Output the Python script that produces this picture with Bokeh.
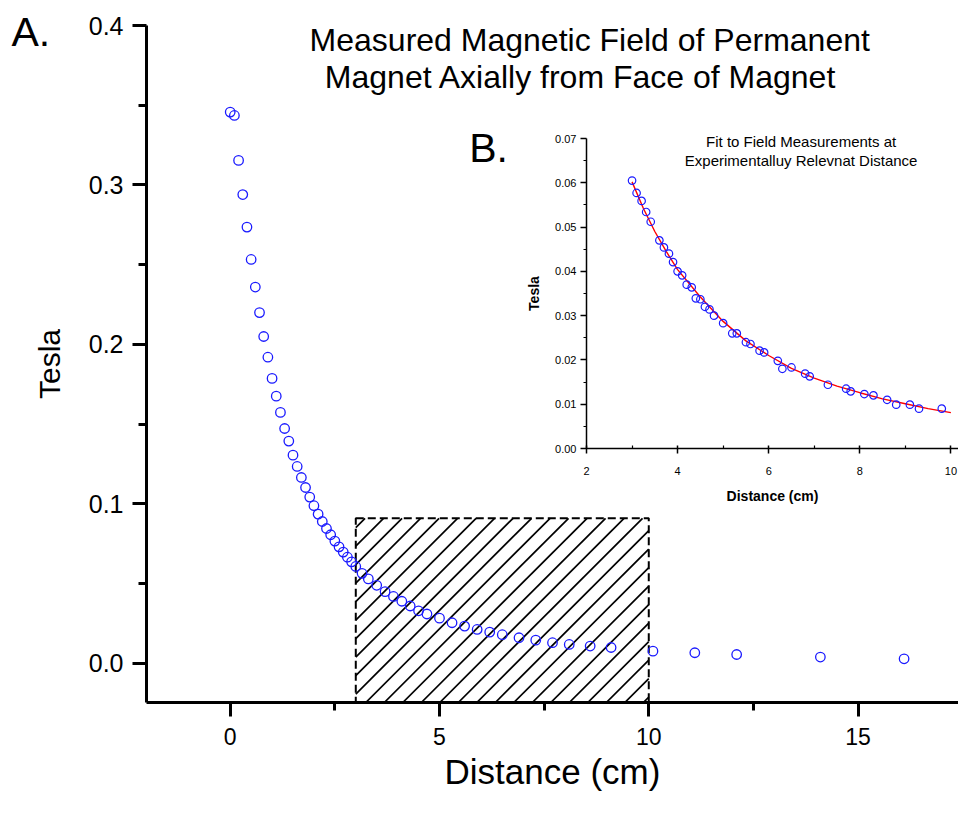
import numpy as np
from bokeh.plotting import figure
from bokeh.models import FixedTicker, Label, ColumnDataSource, Range1d
from bokeh.layouts import column
from bokeh.embed import file_html
from bokeh.resources import INLINE

# ---------------- data ----------------
main_x = [0.0, 0.1, 0.2, 0.3, 0.4, 0.5, 0.6, 0.7, 0.8, 0.9,
          1.0, 1.1, 1.2, 1.3, 1.4, 1.5, 1.6, 1.7, 1.8, 1.9,
          2.0, 2.1, 2.2, 2.3, 2.4, 2.5, 2.6, 2.7, 2.8, 2.9,
          3.0, 3.15, 3.3, 3.5, 3.7, 3.9, 4.1, 4.3, 4.5, 4.7,
          5.0, 5.3, 5.6, 5.9, 6.2, 6.5, 6.9, 7.3, 7.7, 8.1,
          8.6, 9.1, 10.1, 11.1, 12.1, 14.1, 16.1]
main_y = [0.3457, 0.3436, 0.3154, 0.2940, 0.2736, 0.2533, 0.2360, 0.2200, 0.2050, 0.1920,
          0.1787, 0.1676, 0.1574, 0.1473, 0.1394, 0.1306, 0.1235, 0.1166, 0.1103, 0.1043,
          0.0989, 0.0936, 0.0890, 0.0846, 0.0807, 0.0767, 0.0731, 0.0698, 0.0666, 0.0637,
          0.0608, 0.0565, 0.0530, 0.0490, 0.0450, 0.0420, 0.0390, 0.0360, 0.0330, 0.0310,
          0.0284, 0.0255, 0.0234, 0.0213, 0.0196, 0.0180, 0.0161, 0.0146, 0.0130, 0.0119,
          0.0109, 0.0100, 0.0077, 0.0067, 0.0056, 0.0040, 0.0029]

inset_x = [3.00, 3.10, 3.21, 3.31, 3.41, 3.60, 3.70, 3.81, 3.90, 4.00,
           4.10, 4.20, 4.31, 4.40, 4.50, 4.60, 4.70, 4.80, 5.00, 5.20,
           5.30, 5.50, 5.60, 5.80, 5.90, 6.20, 6.30, 6.50, 6.80, 6.90,
           7.30, 7.70, 7.80, 8.10, 8.30, 8.60, 8.80, 9.10, 9.30, 9.80]
inset_y = [0.0605, 0.0577, 0.0559, 0.0534, 0.0512, 0.0470, 0.0454, 0.0440, 0.0421, 0.0400,
           0.0391, 0.0370, 0.0364, 0.0339, 0.0337, 0.0320, 0.0314, 0.0300, 0.0283, 0.0260,
           0.0260, 0.0240, 0.0236, 0.0221, 0.0217, 0.0198, 0.0180, 0.0183, 0.0169, 0.0163,
           0.0144, 0.0135, 0.0129, 0.0123, 0.0120, 0.0110, 0.0099, 0.0099, 0.0090, 0.0090]

fit_x = [3.0, 3.25, 3.5, 3.75, 4.0, 4.5, 5.0, 5.5, 6.0, 6.5, 7.0, 7.5, 8.0, 8.5, 9.0, 9.5, 10.0]
fit_y = [0.0602, 0.0542, 0.0490, 0.0445, 0.0404, 0.0342, 0.0287, 0.0243, 0.0210, 0.0181,
         0.0159, 0.0141, 0.0126, 0.0112, 0.0101, 0.0090, 0.0081]

region_left = [3.0]
region_right = [10.0]
region_top = [0.091]
region_bottom = [-0.0245]

main_xticks = [0, 5, 10, 15]
main_xminor = [2.5, 7.5, 12.5, 17.5]
main_yticks = [0.0, 0.1, 0.2, 0.3, 0.4]
main_ylabels = ["0.0", "0.1", "0.2", "0.3", "0.4"]
main_yminor = [0.05, 0.15, 0.25, 0.35]

inset_xticks = [2, 4, 6, 8, 10]
inset_xminor = [3, 5, 7, 9]
inset_yticks = [0.0, 0.01, 0.02, 0.03, 0.04, 0.05, 0.06, 0.07]
inset_ylabels = ["0.00", "0.01", "0.02", "0.03", "0.04", "0.05", "0.06", "0.07"]
inset_yminor = [0.005, 0.015, 0.025, 0.035, 0.045, 0.055, 0.065]

main_title = ["Measured Magnetic Field of Permanent", "Magnet Axially from Face of Magnet"]
inset_title = ["Fit to Field Measurements at", "Experimentalluy Relevnat Distance"]
panel_labels = ["A.", "B."]

FONT = "Liberation Sans"
BLUE = "#1a1aff"
LEFT = 146  # shared left border (column aligns figure borders)

# ---------------- main figure ----------------
W, H = 958, 797
B_TOP, B_BOTTOM = 25, 95
X0, X1 = -2, 17.40
Y0, Y1 = -0.0245, 0.4
p = figure(width=W, height=H, output_backend="svg", toolbar_location=None,
           x_range=Range1d(X0, X1), y_range=Range1d(Y0, Y1),
           min_border_left=LEFT, min_border_right=0, min_border_top=B_TOP, min_border_bottom=B_BOTTOM)
p.outline_line_color = None
p.grid.visible = False
p.background_fill_color = "white"
p.border_fill_color = "white"

# 45-degree hatch lines clipped to the highlighted region (derived from the region bounds)
px_per_x = (W - LEFT) / (X1 - X0)
px_per_y = (H - B_TOP - B_BOTTOM) / (Y1 - Y0)
k = px_per_x / px_per_y                      # data-y change per data-x for a 45 deg screen line
L, R, T, Bm = region_left[0], region_right[0], region_top[0], region_bottom[0]
span = (T - Bm) / k                          # x-extent of one line across the full height
step = 18.5 / px_per_x                       # horizontal spacing of the hatch lines
starts = np.arange(L - span + 0.5 * step, R, step)
hx0 = np.maximum(starts, L)
hx1 = np.minimum(starts + span, R)
keep = hx1 > hx0
hx0, hx1, hs = hx0[keep], hx1[keep], starts[keep]
hy0 = Bm + (hx0 - hs) * k
hy1 = Bm + (hx1 - hs) * k
p.segment(x0=hx0, y0=hy0, x1=hx1, y1=hy1, line_color="black", line_width=1.7)

p.quad(left="l", right="r", top="t", bottom="b",
       source=ColumnDataSource(dict(l=region_left, r=region_right, t=region_top, b=region_bottom)),
       fill_alpha=0, line_color="black", line_width=2, line_dash="8 4")

p.scatter(main_x, main_y, marker="circle", size=9.5, fill_color=None,
          line_color=BLUE, line_width=1.3)

for ax in (p.xaxis[0], p.yaxis[0]):
    ax.axis_line_width = 3
    ax.major_tick_line_width = 3
    ax.minor_tick_line_width = 3
    ax.major_tick_out = 14
    ax.major_tick_in = 0
    ax.minor_tick_out = 8
    ax.minor_tick_in = 0
    ax.major_label_text_font = FONT
    ax.axis_label_text_font = FONT
    ax.axis_label_text_font_style = "normal"
    ax.major_label_text_color = "black"
    ax.axis_label_text_color = "black"

p.xaxis[0].ticker = FixedTicker(ticks=main_xticks, minor_ticks=main_xminor)
p.xaxis[0].major_label_text_font_size = "23px"
p.xaxis[0].major_label_standoff = 11
p.xaxis[0].axis_label = "Distance (cm)"
p.xaxis[0].axis_label_text_font_size = "35px"
p.xaxis[0].axis_label_standoff = 4

p.yaxis[0].ticker = FixedTicker(ticks=main_yticks, minor_ticks=main_yminor)
p.yaxis[0].major_label_overrides = {t: s for t, s in zip(main_yticks, main_ylabels)}
p.yaxis[0].major_label_text_font_size = "25px"
p.yaxis[0].major_label_standoff = 9
p.yaxis[0].axis_label = "Tesla"
p.yaxis[0].axis_label_text_font_size = "30px"
p.yaxis[0].axis_label_standoff = 20

p.add_layout(Label(x=8.59, y=0.3907, text=main_title[0], text_align="center",
                   text_baseline="alphabetic", text_font=FONT, text_font_size="32px",
                   text_color="black"))
p.add_layout(Label(x=8.38, y=0.3678, text=main_title[1], text_align="center",
                   text_baseline="alphabetic", text_font=FONT, text_font_size="32px",
                   text_color="black"))
p.add_layout(Label(x=5.71, y=0.3235, text=panel_labels[1], text_align="left",
                   text_baseline="alphabetic", text_font=FONT, text_font_size="41px",
                   text_color="black"))
# inset title (drawn in the main frame so that it is not clipped by the inset frame)
p.add_layout(Label(x=13.64, y=0.3271, text=inset_title[0], text_align="center",
                   text_baseline="alphabetic", text_font=FONT, text_font_size="15px",
                   text_color="black"))
p.add_layout(Label(x=13.64, y=0.3156, text=inset_title[1], text_align="center",
                   text_baseline="alphabetic", text_font=FONT, text_font_size="15px",
                   text_color="black"))

# ---------------- inset figure ----------------
q = figure(width=LEFT + 372, height=385, output_backend="svg", toolbar_location=None,
           x_range=Range1d(2, 10.167), y_range=Range1d(0, 0.07),
           min_border_left=LEFT, min_border_right=0, min_border_top=10, min_border_bottom=65)
q.outline_line_color = None
q.grid.visible = False
q.background_fill_alpha = 0
q.border_fill_alpha = 0

q.line(fit_x, fit_y, line_color="red", line_width=1.4)
q.scatter(inset_x, inset_y, marker="circle", size=7.5, fill_color=None,
          line_color=BLUE, line_width=1.2)

for ax in (q.xaxis[0], q.yaxis[0]):
    ax.axis_line_width = 1.5
    ax.major_tick_line_width = 1.5
    ax.minor_tick_line_width = 1.2
    ax.major_label_text_font = FONT
    ax.major_label_text_font_size = "11px"
    ax.axis_label_text_font = FONT
    ax.axis_label_text_font_size = "14px"
    ax.axis_label_text_font_style = "bold"
    ax.major_label_text_color = "black"
    ax.axis_label_text_color = "black"

q.xaxis[0].ticker = FixedTicker(ticks=inset_xticks, minor_ticks=inset_xminor)
q.xaxis[0].major_tick_out = 5
q.xaxis[0].major_tick_in = 3
q.xaxis[0].minor_tick_out = 0
q.xaxis[0].minor_tick_in = 3
q.xaxis[0].major_label_standoff = 13
q.xaxis[0].axis_label = "Distance (cm)"
q.xaxis[0].axis_label_standoff = 10

q.yaxis[0].ticker = FixedTicker(ticks=inset_yticks, minor_ticks=inset_yminor)
q.yaxis[0].major_label_overrides = {t: s for t, s in zip(inset_yticks, inset_ylabels)}
q.yaxis[0].major_tick_out = 6
q.yaxis[0].major_tick_in = 0
q.yaxis[0].minor_tick_out = 3
q.yaxis[0].minor_tick_in = 0
q.yaxis[0].major_label_standoff = 4
q.yaxis[0].axis_label = "Tesla"
q.yaxis[0].axis_label_standoff = 10

q.styles = {"position": "absolute", "left": f"{586 - LEFT}px", "top": "128px", "z-index": "5"}

# ---------------- small transparent figure carrying the "A." panel label ----------------
a = figure(width=LEFT + 60, height=56, output_backend="svg", toolbar_location=None,
           x_range=Range1d(0, 60), y_range=Range1d(0, 56),
           min_border_left=LEFT, min_border_right=0, min_border_top=0, min_border_bottom=0)
a.outline_line_color = None
a.grid.visible = False
a.axis.visible = False
a.background_fill_alpha = 0
a.border_fill_alpha = 0
a.add_layout(Label(x=1, y=33, text=panel_labels[0], text_align="left",
                   text_baseline="alphabetic", text_font=FONT, text_font_size="41px",
                   text_color="black"))
a.styles = {"position": "absolute", "left": f"{10 - LEFT}px", "top": "8px", "z-index": "6"}

layout = column(p, q, a)
layout.styles = {"position": "relative"}

open("out.html", "w").write(file_html(layout, INLINE))
